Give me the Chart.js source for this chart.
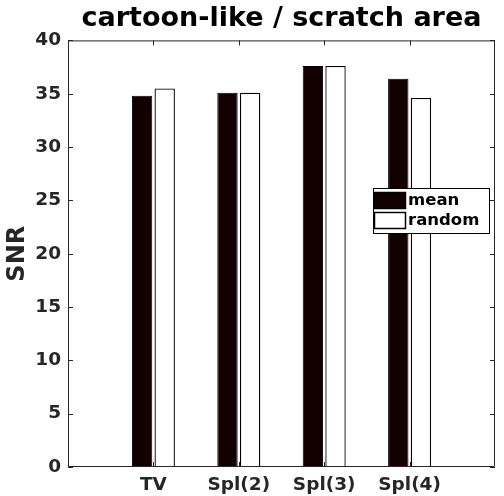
<!DOCTYPE html>
<html>
<head>
<meta charset="utf-8">
<script src="https://cdn.jsdelivr.net/npm/chart.js@4"></script>
<style>
  html, body { margin: 0; padding: 0; background: #fff; }
  #wrap { width: 504px; height: 496px; }
</style>
</head>
<body>
<div id="wrap"><canvas id="snrChart" width="504" height="496"></canvas></div>
<script>
// data
const categories = ['TV', 'Spl(2)', 'Spl(3)', 'Spl(4)'];
const meanValues = [34.8, 35.1, 37.6, 36.4];
const randomValues = [35.5, 35.1, 37.6, 34.6];
const yTicks = [0, 5, 10, 15, 20, 25, 30, 35, 40];

// x axis runs from 0 to 5, categories sit at 1..4
const labels = [''].concat(categories, ['']);
const pad = arr => [null].concat(arr, [null]);

const axisColor = '#262626';
const font = 'DejaVu Sans';

// ticks pointing inwards, box around the axes, legend inside the plot
const matlabAxes = {
    id: 'matlabAxes',
    afterDraw(chart) {
        const { ctx, chartArea: a, scales } = chart;
        ctx.save();
        ctx.strokeStyle = axisColor;
        ctx.lineWidth = 1;
        ctx.beginPath();
        ctx.rect(a.left + 0.5, a.top + 0.5, a.right - a.left - 1, a.bottom - a.top - 1);
        const tl = 5;
        yTicks.forEach(v => {
            const y = Math.round(scales.y.getPixelForValue(v)) + 0.5;
            ctx.moveTo(a.left, y); ctx.lineTo(a.left + tl, y);
            ctx.moveTo(a.right, y); ctx.lineTo(a.right - tl, y);
        });
        categories.forEach((c, i) => {
            const x = Math.round(scales.x.getPixelForValue(i + 1)) + 0.5;
            ctx.moveTo(x, a.bottom); ctx.lineTo(x, a.bottom - tl);
            ctx.moveTo(x, a.top); ctx.lineTo(x, a.top + tl);
        });
        ctx.stroke();

        // legend
        const lx = 373, ly = 188, lw = 116, lh = 45;
        ctx.fillStyle = '#fff';
        ctx.fillRect(lx, ly, lw, lh);
        ctx.strokeStyle = '#000';
        ctx.strokeRect(lx + 0.5, ly + 0.5, lw, lh);
        ctx.font = 'bold 16.5px "' + font + '"';
        ctx.textBaseline = 'middle';
        chart.data.datasets.forEach((ds, i) => {
            const sy = ly + 4 + i * 20;
            ctx.fillStyle = ds.backgroundColor;
            ctx.fillRect(lx + 1, sy, 32, 16);
            ctx.strokeStyle = '#000';
            ctx.lineWidth = 1.5;
            ctx.strokeRect(lx + 1.5, sy + 0.5, 31, 16);
            ctx.fillStyle = '#000';
            ctx.fillText(ds.label, lx + 35, sy + 9);
        });
        ctx.restore();
    }
};

const ctx = document.getElementById('snrChart').getContext('2d');
const snrChart = new Chart(ctx, {
    type: 'bar',
    data: {
        labels: labels,
        datasets: [{
            label: 'mean',
            data: pad(meanValues),
            backgroundColor: '#130000',
            borderColor: '#000000',
            borderWidth: 1
        }, {
            label: 'random',
            data: pad(randomValues),
            backgroundColor: '#ffffff',
            borderColor: '#000000',
            borderWidth: 1.3
        }]
    },
    options: {
        responsive: false,
        animation: false,
        layout: { padding: { top: 0, right: 9, left: 0, bottom: 0 } },
        datasets: {
            bar: { categoryPercentage: 0.53, barPercentage: 0.9, grouped: true }
        },
        plugins: {
            legend: { display: false },
            tooltip: { enabled: false },
            title: {
                display: true,
                fullSize: false,
                text: 'cartoon-like / scratch area',
                color: '#000',
                font: { family: font, size: 27, weight: 'bold', lineHeight: 1.2 },
                padding: { top: 3, bottom: 5 }
            }
        },
        scales: {
            x: {
                offset: false,
                grid: { display: false, drawTicks: false },
                border: { display: false },
                ticks: {
                    color: axisColor,
                    font: { family: font, size: 18.5, weight: 'bold' },
                    padding: 7,
                    maxRotation: 0,
                    autoSkip: false
                },
                afterFit: s => { s.height = 29; }
            },
            y: {
                min: 0,
                max: 40,
                afterBuildTicks: s => { s.ticks = yTicks.map(v => ({ value: v })); },
                grid: { display: false, drawTicks: false },
                border: { display: false },
                ticks: {
                    color: axisColor,
                    font: { family: font, size: 18.5, weight: 'bold' },
                    padding: 7
                },
                title: {
                    display: true,
                    text: 'SNR',
                    color: axisColor,
                    font: { family: font, size: 24, weight: 'bold' },
                    padding: { top: 3, bottom: 0 }
                },
                afterFit: s => { s.width = 68; }
            }
        }
    },
    plugins: [matlabAxes]
});
</script>
</body>
</html>
